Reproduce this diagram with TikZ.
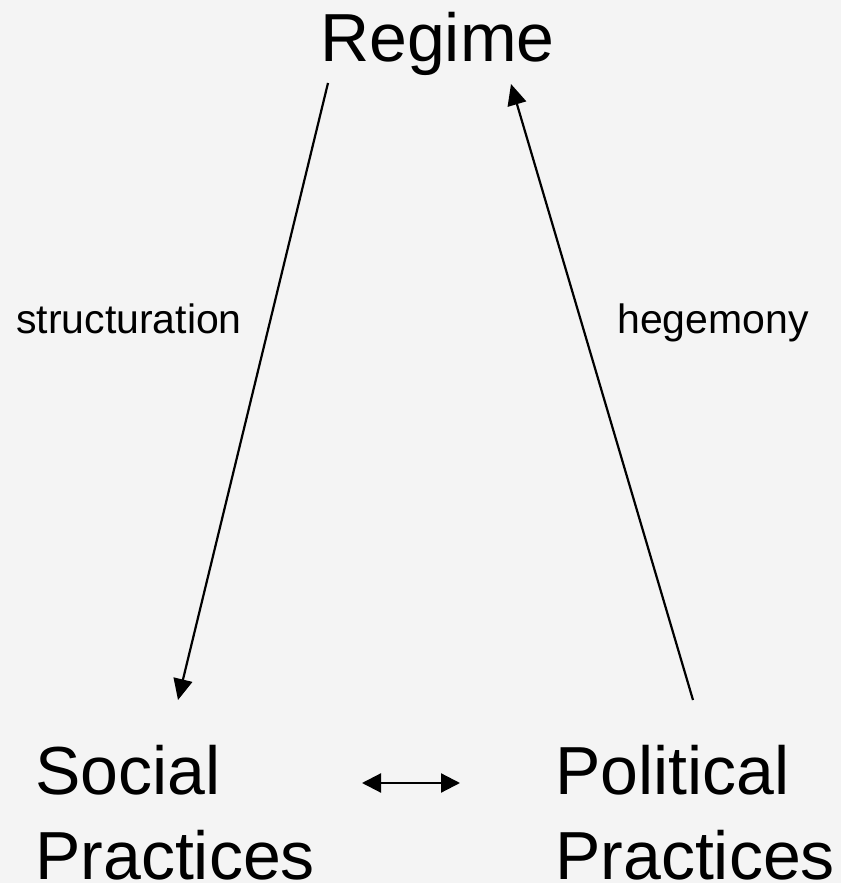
\documentclass[tikz,border=0pt]{standalone}
\usepackage{fontspec}
\setmainfont{Liberation Sans}
\usetikzlibrary{arrows.meta}
\definecolor{bg}{HTML}{F4F4F4}
\tikzset{
  big/.style={inner sep=0pt, anchor=base west, align=left, font=\fontsize{68}{85}\selectfont},
  lab/.style={inner sep=0pt, anchor=base west, font=\fontsize{41}{50}\selectfont},
  conn/.style={line width=2.2pt, -{Triangle[length=21pt,width=19pt]}},
  both/.style={line width=2.2pt, {Triangle[length=19pt,width=19pt]}-{Triangle[length=19pt,width=19pt]}}
}
\begin{document}
\begin{tikzpicture}[x=1pt,y=1pt]
\fill[bg] (0,0) rectangle (841,883);
\useasboundingbox (0,0) rectangle (841,883);
\node[big] (regime) at (320,821) {Regime};
\node[big] (social) at (35,4) {Social\\Practices};
\node[big] (political) at (555,4) {Political\\Practices};
\node[lab] (struct) at (16,549) {structuration};
\node[lab] (hege) at (617,549) {hegemony};
\coordinate (rl) at (328,800);
\coordinate (rr) at (511,799);
\coordinate (st) at (178,183);
\coordinate (pt) at (693,183);
\coordinate (sr) at (362,100);
\coordinate (pl) at (460,100);
\draw[conn] (rl) -- (st);
\draw[conn] (pt) -- (rr);
\draw[both] (sr) -- (pl);
\end{tikzpicture}
\end{document}
